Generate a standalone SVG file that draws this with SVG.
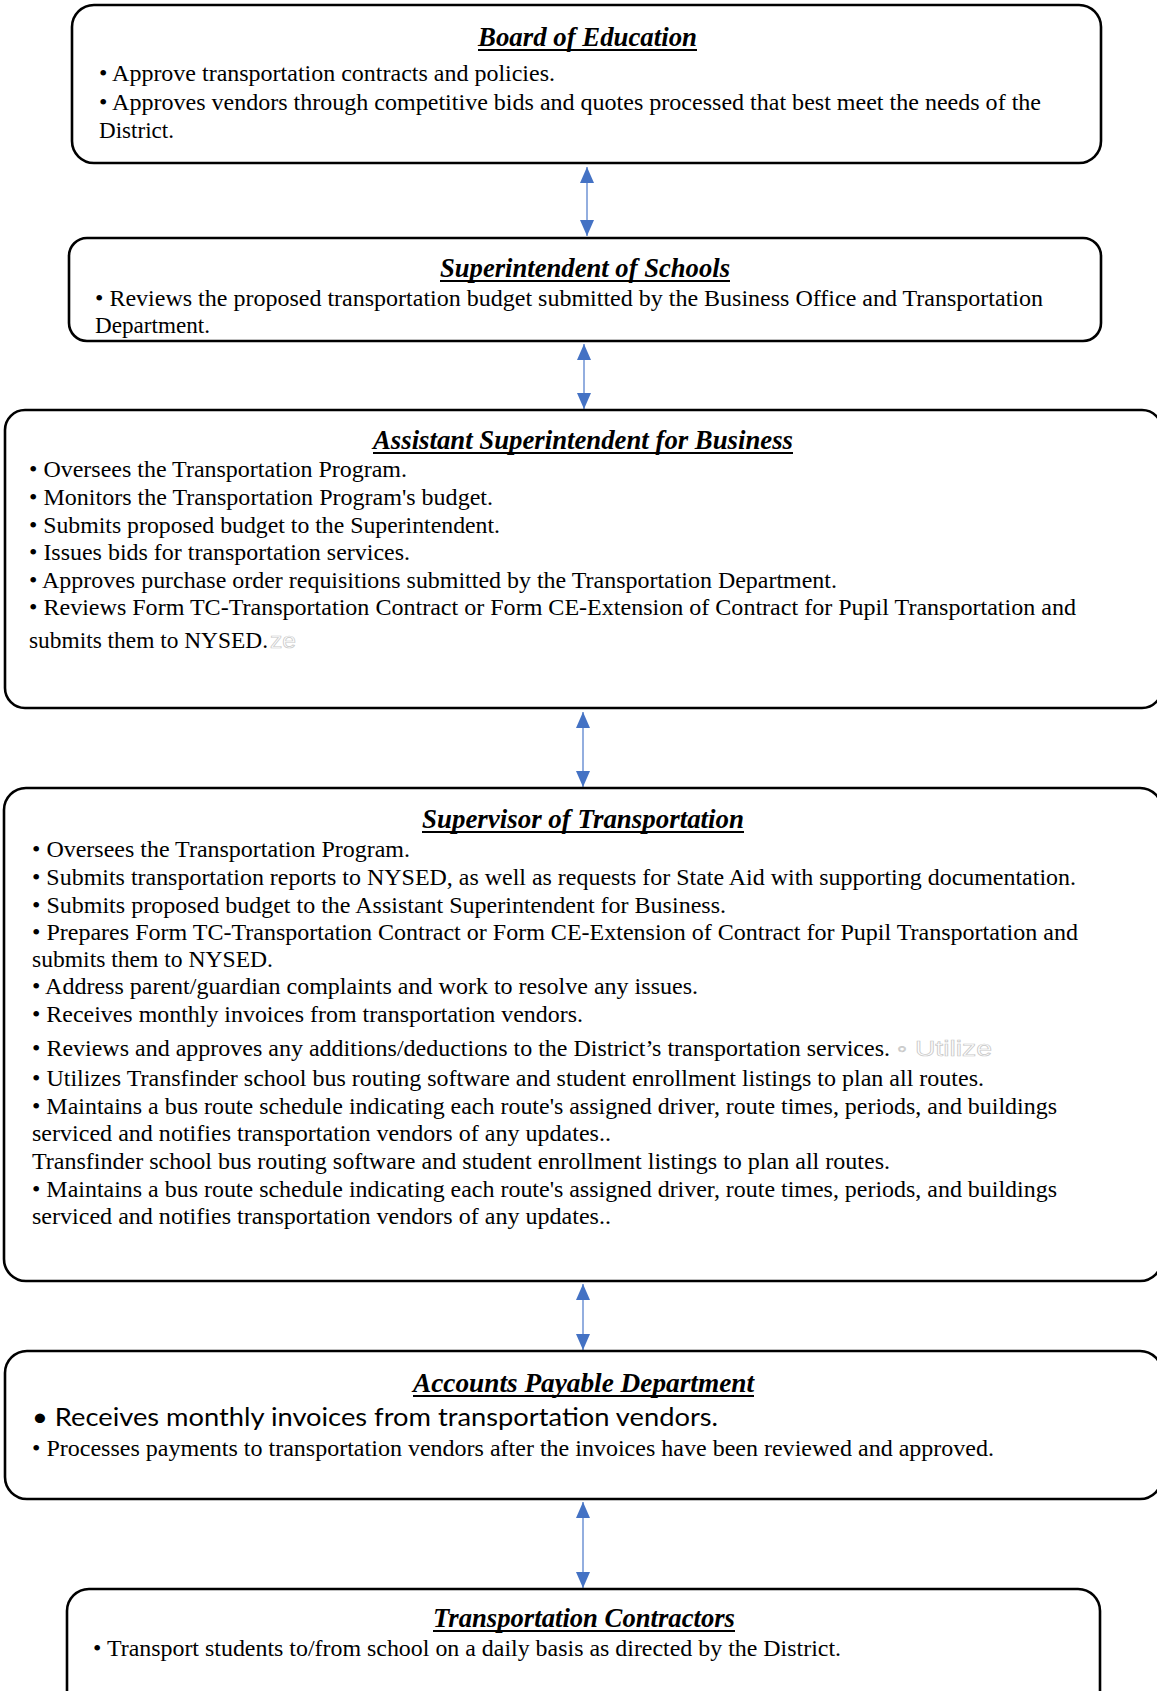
<svg xmlns="http://www.w3.org/2000/svg" width="1157" height="1691" viewBox="0 0 1157 1691">
<style>
.box{fill:#fff;stroke:#000;stroke-width:2.6}
.t{font-family:"Liberation Serif","Times New Roman",serif;font-size:27px;font-weight:bold;font-style:italic;fill:#000}
.u{stroke:#000;stroke-width:2}
.b{font-family:"Liberation Serif","Times New Roman",serif;font-size:23px;fill:#000}
.s{font-family:Lato,"Open Sans",sans-serif;font-size:25px;fill:#000}
.g{font-family:"Liberation Sans",Arial,sans-serif;font-size:22px;fill:#fff;stroke:#c8c8c8;stroke-width:0.7}
.c{stroke:#6f93d4;stroke-width:1.5;fill:none;marker-start:url(#ah);marker-end:url(#ah)}
</style>
<defs>
<marker id="ah" markerUnits="userSpaceOnUse" markerWidth="16" markerHeight="14" refX="16" refY="7" orient="auto-start-reverse">
<path d="M0,0 L16,7 L0,14 z" fill="#4472C4"/>
</marker>
</defs>
<rect width="1157" height="1691" fill="#fff"/>
<g id="connectors">
<line class="c" x1="587" y1="167" x2="587" y2="236"/>
<line class="c" x1="584" y1="344" x2="584" y2="409"/>
<line class="c" x1="583" y1="712" x2="583" y2="787"/>
<line class="c" x1="583" y1="1284" x2="583" y2="1350"/>
<line class="c" x1="583" y1="1502" x2="583" y2="1588"/>
</g>
<g id="board">
<rect class="box" x="72" y="5" width="1029" height="158" rx="22"/>
<text class="t" x="478" y="46" textLength="219" lengthAdjust="spacingAndGlyphs">Board of Education</text>
<line class="u" x1="478" y1="50" x2="697" y2="50"/>
<text class="b" x="99" y="81" textLength="456" lengthAdjust="spacingAndGlyphs">• Approve transportation contracts and policies.</text>
<text class="b" x="99" y="110" textLength="942" lengthAdjust="spacingAndGlyphs">• Approves vendors through competitive bids and quotes processed that best meet the needs of the</text>
<text class="b" x="99" y="138" textLength="75" lengthAdjust="spacingAndGlyphs">District.</text>
</g>
<g id="superintendent">
<rect class="box" x="69" y="238" width="1032" height="103" rx="18"/>
<text class="t" x="440" y="277" textLength="290" lengthAdjust="spacingAndGlyphs">Superintendent of Schools</text>
<line class="u" x1="440" y1="281" x2="730" y2="281"/>
<text class="b" x="95" y="306" textLength="948" lengthAdjust="spacingAndGlyphs">• Reviews the proposed transportation budget submitted by the Business Office and Transportation</text>
<text class="b" x="95" y="333" textLength="115" lengthAdjust="spacingAndGlyphs">Department.</text>
</g>
<g id="asst-business">
<rect class="box" x="5" y="410" width="1157" height="298" rx="20"/>
<text class="t" x="373" y="449" textLength="420" lengthAdjust="spacingAndGlyphs">Assistant Superintendent for Business</text>
<line class="u" x1="373" y1="453" x2="793" y2="453"/>
<text class="b" x="29" y="477" textLength="378" lengthAdjust="spacingAndGlyphs">• Oversees the Transportation Program.</text>
<text class="b" x="29" y="505" textLength="464" lengthAdjust="spacingAndGlyphs">• Monitors the Transportation Program's budget.</text>
<text class="b" x="29" y="533" textLength="471" lengthAdjust="spacingAndGlyphs">• Submits proposed budget to the Superintendent.</text>
<text class="b" x="29" y="560" textLength="381" lengthAdjust="spacingAndGlyphs">• Issues bids for transportation services.</text>
<text class="b" x="29" y="588" textLength="808" lengthAdjust="spacingAndGlyphs">• Approves purchase order requisitions submitted by the Transportation Department.</text>
<text class="b" x="29" y="615" textLength="1047" lengthAdjust="spacingAndGlyphs">• Reviews Form TC-Transportation Contract or Form CE-Extension of Contract for Pupil Transportation and</text>
<text class="b" x="29" y="648" textLength="239" lengthAdjust="spacingAndGlyphs">submits them to NYSED.</text>
<text class="g" x="270" y="648" textLength="26" lengthAdjust="spacingAndGlyphs">ze</text>
</g>
<g id="supervisor">
<rect class="box" x="4" y="788" width="1158" height="493" rx="22"/>
<text class="t" x="422" y="828" textLength="322" lengthAdjust="spacingAndGlyphs">Supervisor of Transportation</text>
<line class="u" x1="422" y1="832" x2="744" y2="832"/>
<text class="b" x="32" y="857" textLength="378" lengthAdjust="spacingAndGlyphs">• Oversees the Transportation Program.</text>
<text class="b" x="32" y="885" textLength="1044" lengthAdjust="spacingAndGlyphs">• Submits transportation reports to NYSED, as well as requests for State Aid with supporting documentation.</text>
<text class="b" x="32" y="913" textLength="694" lengthAdjust="spacingAndGlyphs">• Submits proposed budget to the Assistant Superintendent for Business.</text>
<text class="b" x="32" y="940" textLength="1046" lengthAdjust="spacingAndGlyphs">• Prepares Form TC-Transportation Contract or Form CE-Extension of Contract for Pupil Transportation and</text>
<text class="b" x="32" y="967" textLength="241" lengthAdjust="spacingAndGlyphs">submits them to NYSED.</text>
<text class="b" x="32" y="994" textLength="666" lengthAdjust="spacingAndGlyphs">• Address parent/guardian complaints and work to resolve any issues.</text>
<text class="b" x="32" y="1022" textLength="551" lengthAdjust="spacingAndGlyphs">• Receives monthly invoices from transportation vendors.</text>
<text class="b" x="32" y="1056" textLength="858" lengthAdjust="spacingAndGlyphs">• Reviews and approves any additions/deductions to the District’s transportation services.</text>
<text class="g" x="897" y="1056" textLength="95" lengthAdjust="spacingAndGlyphs">◦ Utilize</text>
<text class="b" x="32" y="1086" textLength="952" lengthAdjust="spacingAndGlyphs">• Utilizes Transfinder school bus routing software and student enrollment listings to plan all routes.</text>
<text class="b" x="32" y="1114" textLength="1025" lengthAdjust="spacingAndGlyphs">• Maintains a bus route schedule indicating each route's assigned driver, route times, periods, and buildings</text>
<text class="b" x="32" y="1141" textLength="579" lengthAdjust="spacingAndGlyphs">serviced and notifies transportation vendors of any updates..</text>
<text class="b" x="32" y="1169" textLength="858" lengthAdjust="spacingAndGlyphs">Transfinder school bus routing software and student enrollment listings to plan all routes.</text>
<text class="b" x="32" y="1197" textLength="1025" lengthAdjust="spacingAndGlyphs">• Maintains a bus route schedule indicating each route's assigned driver, route times, periods, and buildings</text>
<text class="b" x="32" y="1224" textLength="579" lengthAdjust="spacingAndGlyphs">serviced and notifies transportation vendors of any updates..</text>
</g>
<g id="accounts-payable">
<rect class="box" x="5" y="1351" width="1157" height="148" rx="22"/>
<text class="t" x="413" y="1392" textLength="341" lengthAdjust="spacingAndGlyphs">Accounts Payable Department</text>
<line class="u" x1="413" y1="1396" x2="754" y2="1396"/>
<text class="s" x="32" y="1426" textLength="686" lengthAdjust="spacingAndGlyphs">• Receives monthly invoices from transportation vendors.</text>
<text class="b" x="32" y="1456" textLength="962" lengthAdjust="spacingAndGlyphs">• Processes payments to transportation vendors after the invoices have been reviewed and approved.</text>
</g>
<g id="contractors">
<rect class="box" x="67" y="1589" width="1033" height="125" rx="22"/>
<text class="t" x="433" y="1627" textLength="302" lengthAdjust="spacingAndGlyphs">Transportation Contractors</text>
<line class="u" x1="433" y1="1631" x2="735" y2="1631"/>
<text class="b" x="93" y="1656" textLength="748" lengthAdjust="spacingAndGlyphs">• Transport students to/from school on a daily basis as directed by the District.</text>
</g>
</svg>
